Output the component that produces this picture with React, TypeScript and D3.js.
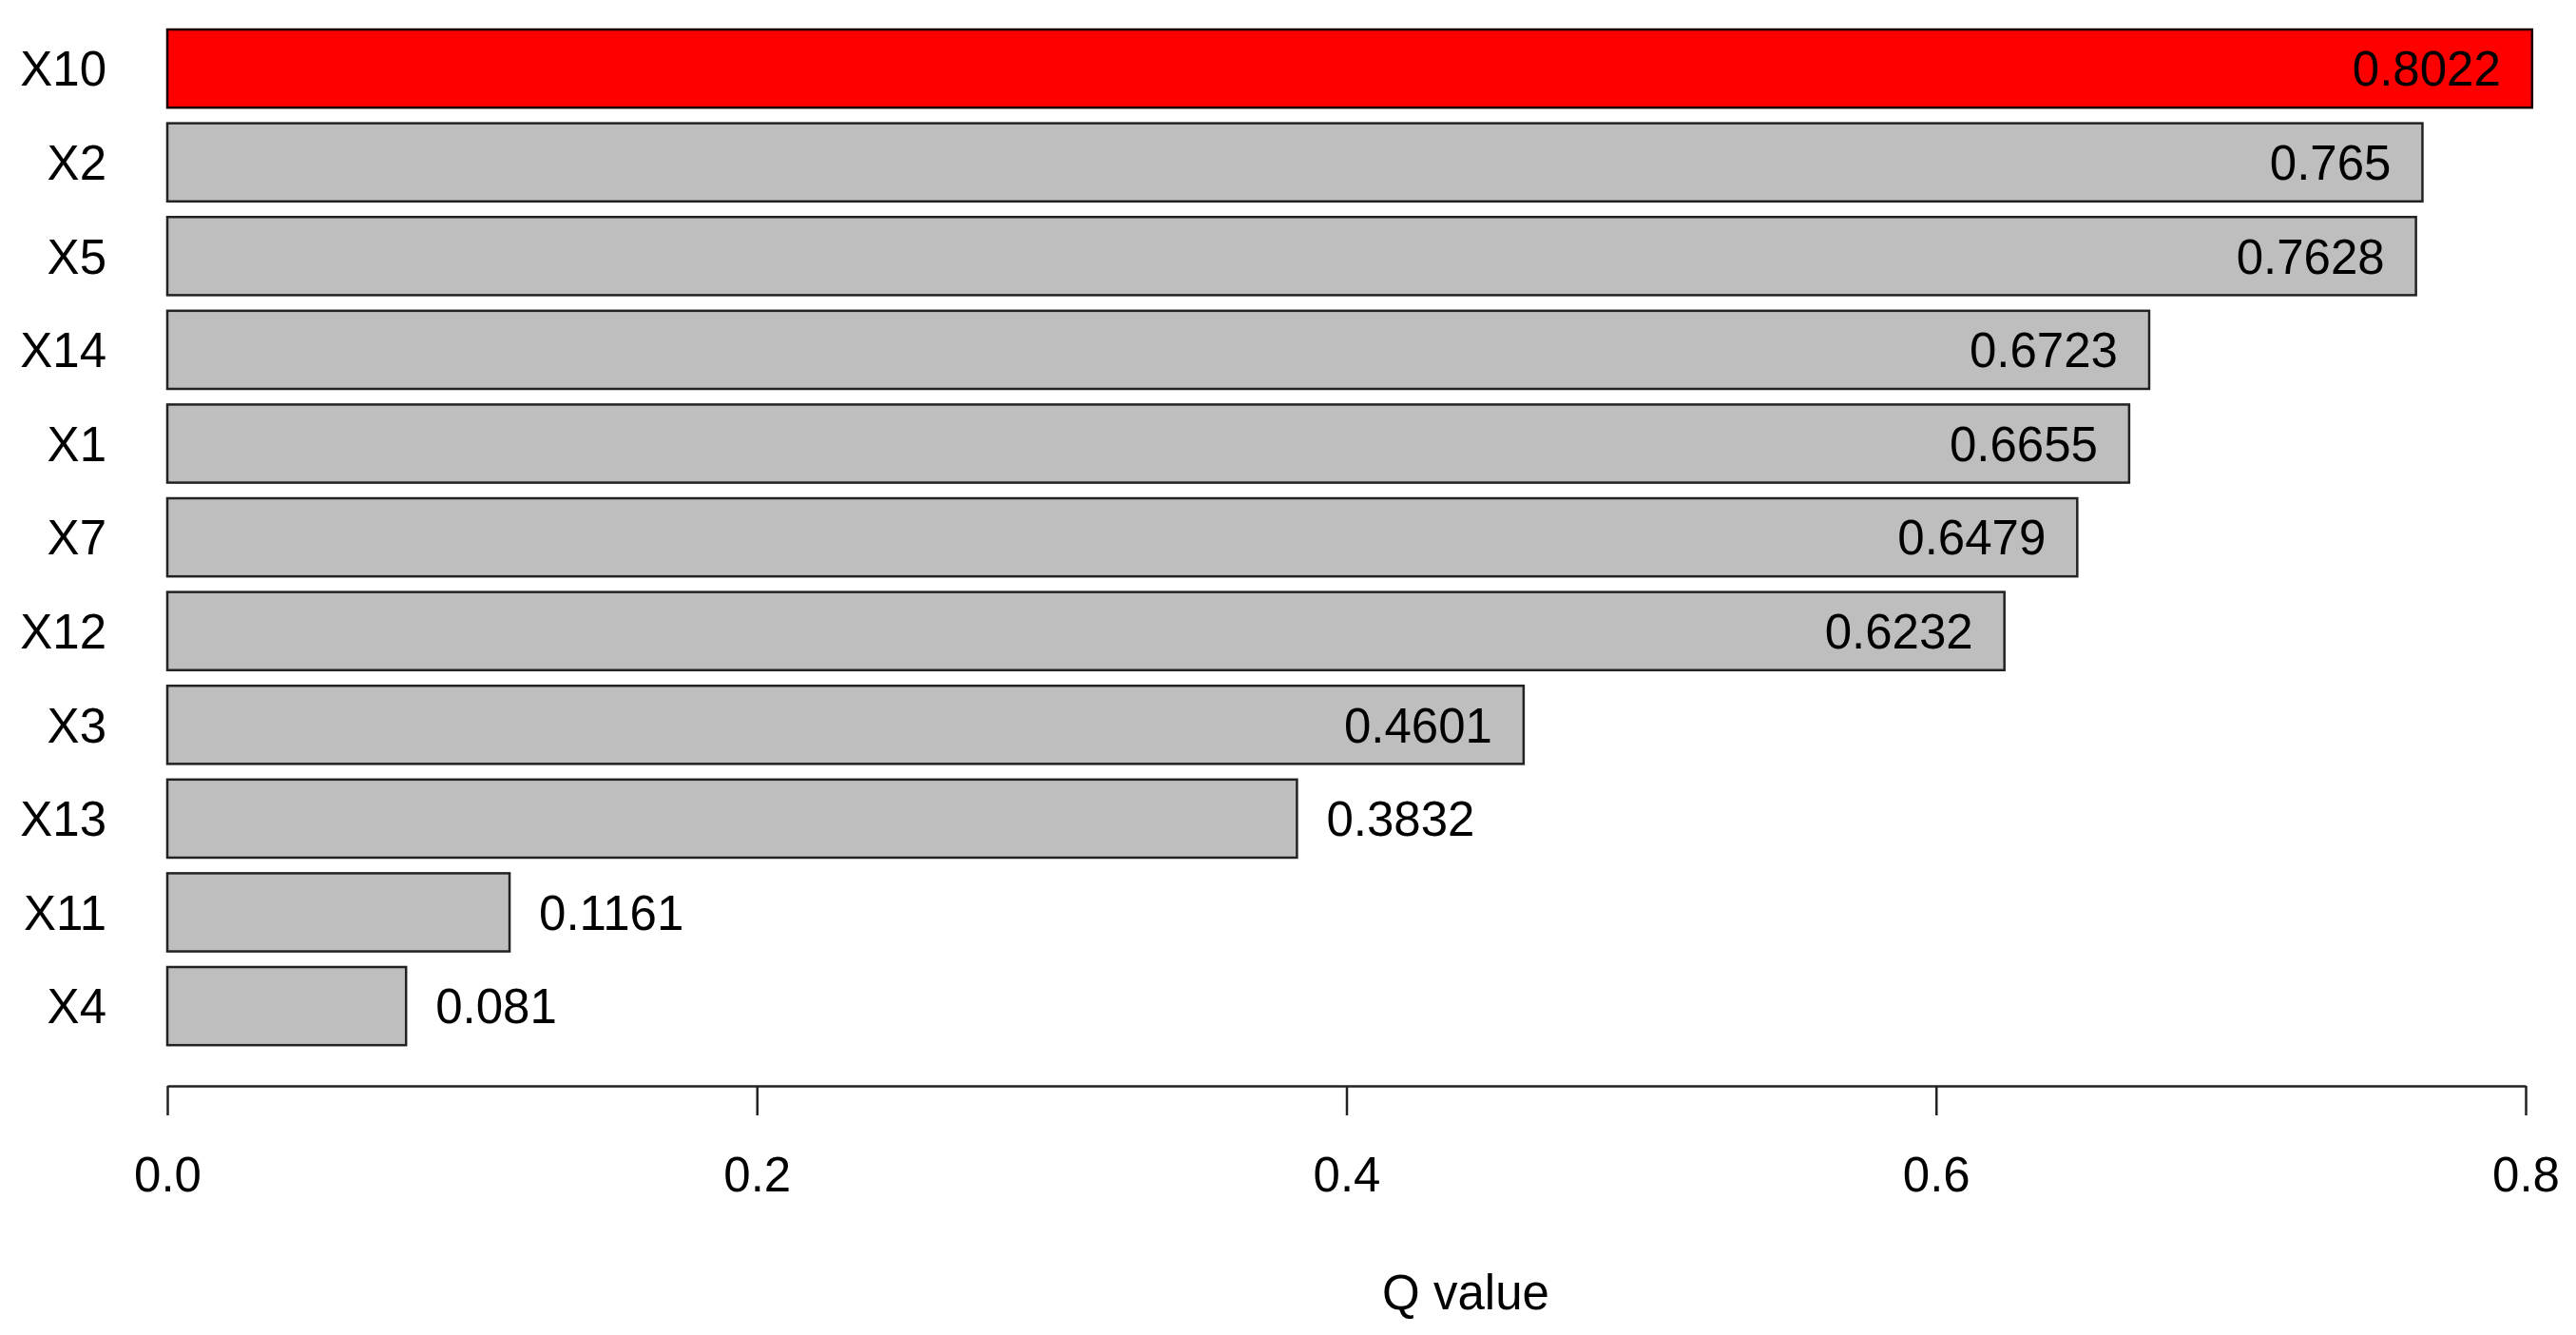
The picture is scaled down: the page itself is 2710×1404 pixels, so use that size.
import React, { useEffect, useRef } from "react";
import * as d3 from "d3";

const categories = ["X10", "X2", "X5", "X14", "X1", "X7", "X12", "X3", "X13", "X11", "X4"];
const qValues = [0.8022, 0.765, 0.7628, 0.6723, 0.6655, 0.6479, 0.6232, 0.4601, 0.3832, 0.1161, 0.081];
const valueLabels = ["0.8022", "0.765", "0.7628", "0.6723", "0.6655", "0.6479", "0.6232", "0.4601", "0.3832", "0.1161", "0.081"];
const xTicks = [0, 0.2, 0.4, 0.6, 0.8];
const highlight = "X10";

const W = 2710;
const H = 1404;
const FONT = "'Liberation Sans', Arial, sans-serif";
const FS = 51;

export default function App() {
  const ref = useRef<SVGSVGElement | null>(null);

  useEffect(() => {
    const svg = d3.select(ref.current);
    svg.selectAll("*").remove();

    const x = d3.scaleLinear().domain([0, 0.8]).range([176, 2657]);
    const y = d3
      .scaleBand<string>()
      .domain(categories)
      .range([14.6, 1115.6])
      .paddingInner(1 / 6)
      .paddingOuter(1 / 6);

    const data = categories.map((c, i) => ({ c, v: qValues[i], label: valueLabels[i] }));

    svg
      .append("g")
      .selectAll("rect")
      .data(data)
      .join("rect")
      .attr("x", x(0))
      .attr("y", (d) => y(d.c)!)
      .attr("width", (d) => x(d.v) - x(0))
      .attr("height", y.bandwidth())
      .attr("fill", (d) => (d.c === highlight ? "#FF0000" : "#BEBEBE"))
      .attr("stroke", (d) => (d.c === highlight ? "#1a0000" : "#222"))
      .attr("stroke-width", 2.5);

    // category labels
    svg
      .append("g")
      .selectAll("text")
      .data(data)
      .join("text")
      .attr("x", 112)
      .attr("y", (d) => y(d.c)! + y.bandwidth() / 2)
      .attr("dy", "0.36em")
      .attr("text-anchor", "end")
      .attr("font-family", FONT)
      .attr("font-size", FS)
      .attr("fill", "#000")
      .text((d) => d.c);

    // value labels
    svg
      .append("g")
      .selectAll("text")
      .data(data)
      .join("text")
      .attr("x", (d) => (d.v > 0.42 ? x(d.v) - 33 : x(d.v) + 31))
      .attr("y", (d) => y(d.c)! + y.bandwidth() / 2)
      .attr("dy", "0.36em")
      .attr("text-anchor", (d) => (d.v > 0.42 ? "end" : "start"))
      .attr("font-family", FONT)
      .attr("font-size", FS)
      .attr("fill", "#000")
      .text((d) => d.label);

    // x axis
    const axis = d3
      .axisBottom(x)
      .tickValues(xTicks)
      .tickFormat(d3.format(".1f"))
      .tickSizeInner(31)
      .tickSizeOuter(0)
      .tickPadding(44);
    const g = svg.append("g").attr("transform", "translate(0,1142)").call(axis);
    g.select(".domain").attr("stroke", "#222").attr("stroke-width", 2.5);
    g.selectAll(".tick line").attr("stroke", "#222").attr("stroke-width", 2.5);
    g.selectAll(".tick text")
      .attr("font-family", FONT)
      .attr("font-size", FS)
      .attr("fill", "#000");

    svg
      .append("text")
      .attr("x", 1542)
      .attr("y", 1377)
      .attr("text-anchor", "middle")
      .attr("font-family", FONT)
      .attr("font-size", FS)
      .attr("fill", "#000")
      .text("Q value");
  }, []);

  return (
    <svg
      ref={ref}
      width={W}
      height={H}
      style={{ position: "absolute", left: 0, top: 0, background: "#fff" }}
    />
  );
}
